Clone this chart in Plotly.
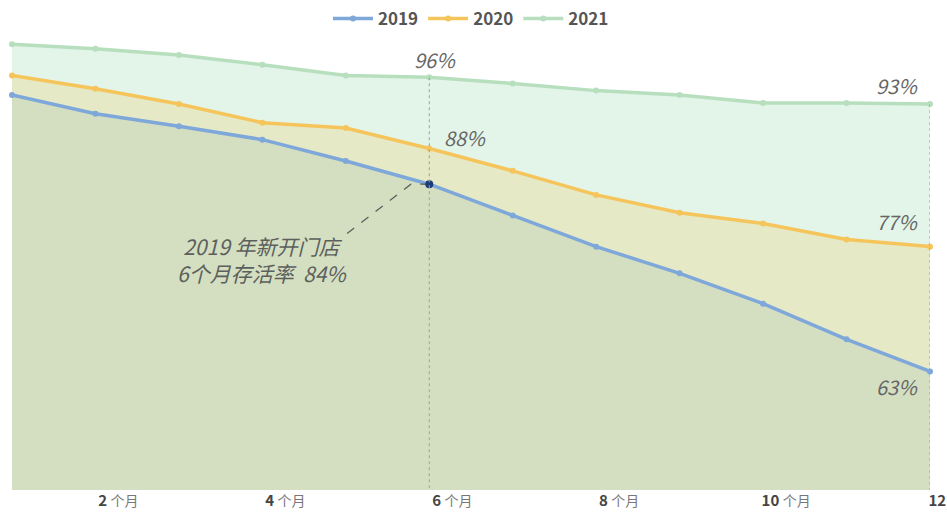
import plotly.graph_objects as go

# Store survival rate (%) by months since opening, per cohort year
months = [1, 2, 3, 4, 5, 6, 7, 8, 9, 10, 11, 12]
rate_2019 = [94.0, 91.9, 90.5, 89.0, 86.6, 84.0, 80.5, 77.0, 74.0, 70.6, 66.6, 63.0]
rate_2020 = [96.2, 94.7, 93.0, 90.9, 90.3, 88.0, 85.5, 82.8, 80.8, 79.6, 77.8, 77.0]
rate_2021 = [99.7, 99.2, 98.5, 97.4, 96.2, 96.0, 95.3, 94.5, 94.0, 93.1, 93.1, 93.0]

tick_vals = [2, 4, 6, 8, 10, 12]
tick_text = [f"<b>{m}</b> <span style='color:#777777;font-size:14px'>个月</span>"
             for m in tick_vals]

FONT = "Noto Sans CJK SC, Noto Sans, sans-serif"
series = [
    ("2019", rate_2019, "#7ea7da", "#d4dfc2"),
    ("2020", rate_2020, "#f5c55c", "#e6e9c6"),
    ("2021", rate_2021, "#b7dfbe", "#e3f4e8"),
]

fig = go.Figure()

# area fills, highest cohort at the back
for name, vals, line_c, fill_c in reversed(series):
    fig.add_trace(go.Scatter(
        x=months, y=vals, mode="none", fill="tozeroy", fillcolor=fill_c,
        showlegend=False, hoverinfo="skip",
    ))

# guide lines at 6 and 12 months
for m in (6, 12):
    i = months.index(m)
    fig.add_shape(type="line", xref="x", yref="y", x0=m, x1=m,
                  y0=rate_2021[i], y1=49.7,
                  line=dict(color="#9aa59a", width=1, dash="dot"))

# cohort lines
for name, vals, line_c, fill_c in series:
    fig.add_trace(go.Scatter(
        x=months, y=vals, mode="lines+markers", name=name,
        line=dict(color=line_c, width=3.5),
        marker=dict(color=line_c, size=6),
        cliponaxis=False,
    ))

# highlighted 2019 six-month point and its dashed leader
i6 = months.index(6)
fig.add_trace(go.Scatter(
    x=[6, 5.78, 4.95], y=[rate_2019[i6], rate_2019[i6], 78.0],
    mode="lines", line=dict(color="#5a5f5a", width=1.3, dash="dash"),
    showlegend=False, hoverinfo="skip",
))
fig.add_trace(go.Scatter(
    x=[6], y=[rate_2019[i6]], mode="markers",
    marker=dict(color="#1d3d7a", size=8), showlegend=False,
    cliponaxis=False,
))

lab_font = dict(family=FONT, size=20, color="#666666")
i12 = months.index(12)
labels = [
    (6, rate_2021[i6], 6, 18),
    (6, rate_2020[i6], 36, 11),
    (12, rate_2021[i12], -33, 18),
    (12, rate_2020[i12], -33, 25),
    (12, rate_2019[i12], -33, -15),
]
for x, y, dx, dy in labels:
    fig.add_annotation(x=x, y=y, text=f"<i>{y:.0f}%</i>", showarrow=False,
                       xshift=dx, yshift=dy, font=lab_font)

fig.add_annotation(
    x=4.0, y=75.6,
    text=f"<i>2019 年新开门店<br>6个月存活率  {rate_2019[i6]:.0f}%</i>",
    showarrow=False, font=dict(family=FONT, size=21, color="#5c605c"),
    align="center",
)

fig.update_layout(
    width=947, height=512,
    margin=dict(l=12, r=17, t=30, b=22, autoexpand=False),
    paper_bgcolor="white", plot_bgcolor="white",
    font=dict(family=FONT, color="#555555"),
    legend=dict(orientation="h", x=0.5, xanchor="center",
                y=1.024, yanchor="middle",
                font=dict(family=FONT, size=17, color="#555555", weight="bold"),
                itemwidth=40, bgcolor="rgba(0,0,0,0)"),
    xaxis=dict(range=[1, 12], tickvals=tick_vals, ticktext=tick_text,
               showgrid=False, zeroline=False, showline=False, ticks="",
               tickfont=dict(family=FONT, size=15, color="#444444"),
               ticklabelshift=23, ticklabelstandoff=0,
               ticklabeloverflow="allow", automargin=False),
    yaxis=dict(range=[49.7, 101.3], visible=False, showgrid=False,
               automargin=False),
)

fig.write_html("out.html")
